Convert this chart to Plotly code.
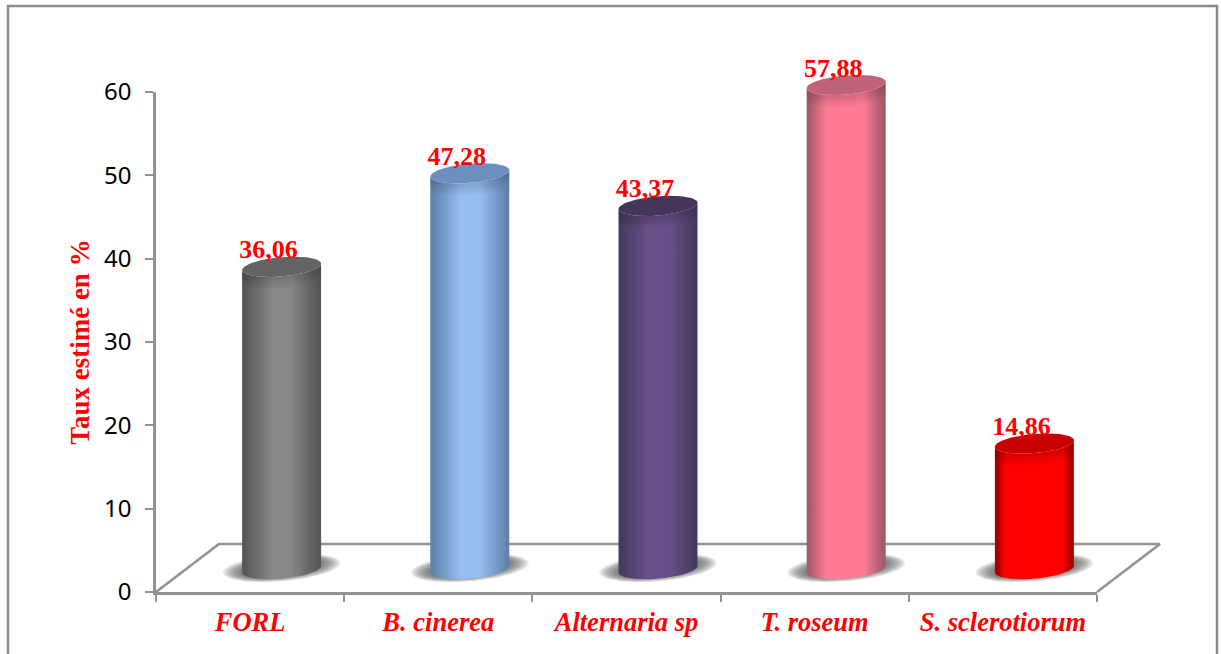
import numpy as np
import plotly.graph_objects as go

# Chart content
categories = ["FORL", "B. cinerea", "Alternaria sp", "T. roseum", "S. sclerotiorum"]
values = [36.06, 47.28, 43.37, 57.88, 14.86]
y_ticks = [0, 10, 20, 30, 40, 50, 60]

# Cylinder shading: side edge, centre highlight, cap colour, highlight extent
edge_colors = ["#565656", "#5f83ad", "#463a5e", "#a35a6c", "#a80000"]
mid_colors = ["#888888", "#97bff2", "#675088", "#ff7b95", "#ff0000"]
cap_colors = ["#646464", "#6c90bd", "#443659", "#c0637a", "#c80000"]
highlight_bands = [(0.38, 0.62), (0.38, 0.62), (0.38, 0.65), (0.25, 0.72), (0.14, 0.86)]

WIDTH, HEIGHT = 1221, 654
LEFT, RIGHT, TOP, BOTTOM = 156, 1097, 92, 592
AXIS_GRAY = "#929292"
SERIF = "Liberation Serif"

px_x = (RIGHT - LEFT) / len(categories)   # pixels per category
px_y = (BOTTOM - TOP) / 60                # pixels per y unit

# Floor depth and where a cylinder stands on it, in axis units
DEPTH_X, DEPTH_Y = 63 / px_x, 48 / px_y
CYL_DX = 31.5 / px_x
CAP_LIFT = 2.96
BASE_LIFT = 2.75
RX, RY, SKEW = 39.5 / px_x, 9.6 / px_y, 3.2 / px_y

theta = np.linspace(0, 2 * np.pi, 121)
front = np.linspace(np.pi, 0, 61)


def ellipse(cx, cy, t, rx=RX, ry=RY, skew=SKEW):
    """Slightly tilted ellipse in axis units."""
    return cx + rx * np.cos(t), cy - ry * np.sin(t) + skew * np.cos(t)


# The 3D scene overflows the labelled axes, so it is drawn on a page-wide
# pair of hidden axes that keeps exactly the same scale as the visible ones.
x_full = [(0 - LEFT) / px_x - 0.5, (WIDTH - LEFT) / px_x - 0.5]
y_full = [(BOTTOM - HEIGHT) / px_y, BOTTOM / px_y]
SCENE = dict(xaxis="x2", yaxis="y2", hoverinfo="skip", showlegend=False)

fig = go.Figure()

# Value bars on the visible axes (the cylinders below give them their look)
fig.add_trace(go.Bar(
    x=list(range(len(categories))), y=values,
    marker=dict(color="rgba(0,0,0,0)", line=dict(width=0)),
    hoverinfo="skip", showlegend=False,
))

# Floor outline
x0, x1 = -0.5, len(categories) - 0.5
fig.add_trace(go.Scatter(
    x=[x0, x0 + DEPTH_X, x1 + DEPTH_X, x1],
    y=[0, DEPTH_Y, DEPTH_Y, 0],
    mode="lines",
    line=dict(color=AXIS_GRAY, width=2.5),
    **SCENE,
))

# Soft floor shadows, built up from nested translucent ellipses
for i in range(len(categories)):
    cx = i + CYL_DX
    for k in range(16):
        f = 1 - k / 16
        sx, sy = ellipse(cx, BASE_LIFT + 0.15, theta,
                         rx=RX * 0.9 + RX * 0.6 * f,
                         ry=RY * 0.8 + RY * 0.62 * f,
                         skew=SKEW * 1.5)
        fig.add_trace(go.Scatter(
            x=sx, y=sy, mode="lines", fill="toself",
            fillcolor="rgba(90,90,90,0.09)",
            line=dict(width=0), **SCENE,
        ))

# Cylinder bodies and caps
for i, v in enumerate(values):
    cx = i + CYL_DX
    top = v + CAP_LIFT
    bx, by = ellipse(cx, BASE_LIFT, front)
    tx, ty = ellipse(cx, top, front[::-1])
    lo, hi = highlight_bands[i]
    gradient = dict(
        type="horizontal",
        colorscale=[
            [0.0, edge_colors[i]],
            [0.03, edge_colors[i]],
            [lo, mid_colors[i]],
            [hi, mid_colors[i]],
            [0.97, edge_colors[i]],
            [1.0, edge_colors[i]],
        ],
    )
    fig.add_trace(go.Scatter(
        x=np.concatenate([bx, tx]), y=np.concatenate([by, ty]),
        mode="lines", fill="toself", fillgradient=gradient,
        line=dict(width=0), **SCENE,
    ))
    # Darker bevel fading out just under the cap
    for drop in (3, 6, 9, 12):
        ax, ay = ellipse(cx, top, front)
        lx, ly = ellipse(cx, top - drop / px_y, front[::-1])
        fig.add_trace(go.Scatter(
            x=np.concatenate([ax, lx]), y=np.concatenate([ay, ly]),
            mode="lines", fill="toself", fillcolor="rgba(0,0,0,0.035)",
            line=dict(width=0), **SCENE,
        ))
    cap_x, cap_y = ellipse(cx, top, theta)
    fig.add_trace(go.Scatter(
        x=cap_x, y=cap_y, mode="lines", fill="toself",
        fillcolor=cap_colors[i], line=dict(width=0), **SCENE,
    ))

# Value labels sitting on the caps
fig.add_trace(go.Scatter(
    x=[i + CYL_DX - 13 / px_x for i in range(len(values))],
    y=[v + CAP_LIFT + 1.8 for v in values],
    mode="text",
    text=[f"{v:.2f}".replace(".", ",") for v in values],
    textposition="middle center",
    textfont=dict(family=SERIF, size=26, color="#ff0000", weight=700),
    **SCENE,
))

fig.update_layout(
    width=WIDTH, height=HEIGHT, autosize=False,
    margin=dict(l=0, r=0, t=0, b=0, pad=0),
    paper_bgcolor="white", plot_bgcolor="rgba(0,0,0,0)",
    showlegend=False, hovermode=False,
    shapes=[dict(
        type="rect", xref="paper", yref="paper", layer="below",
        x0=8 / WIDTH, x1=1217 / WIDTH, y0=-20 / HEIGHT, y1=1 - 6 / HEIGHT,
        line=dict(color="#8a8a8a", width=2.5), fillcolor="rgba(0,0,0,0)",
    )],
    xaxis=dict(
        domain=[LEFT / WIDTH, RIGHT / WIDTH], automargin=False,
        range=[x0, x1], tickmode="array",
        tickvals=list(range(len(categories))), ticktext=categories,
        ticks="", showgrid=False, zeroline=False,
        showline=True, linecolor=AXIS_GRAY, linewidth=2.5,
        tickfont=dict(family=SERIF, size=26.5, color="#ff0000", weight=700, style="italic"),
        ticklabelstandoff=4,
        minor=dict(
            tickmode="array",
            tickvals=[x0 + k for k in range(len(categories) + 1)],
            ticks="outside", ticklen=7, tickwidth=2, tickcolor=AXIS_GRAY,
            showgrid=False,
        ),
    ),
    yaxis=dict(
        domain=[1 - BOTTOM / HEIGHT, 1 - TOP / HEIGHT], automargin=False,
        range=[0, 60], tickmode="array", tickvals=y_ticks,
        ticks="outside", ticklen=8, tickwidth=2, tickcolor=AXIS_GRAY,
        showgrid=False, zeroline=False,
        showline=True, linecolor=AXIS_GRAY, linewidth=2.5,
        tickfont=dict(family="Noto Sans", size=24, color="#000000"),
        ticklabelstandoff=9,
        title=dict(
            text="Taux estimé en %", standoff=7,
            font=dict(family=SERIF, size=27, color="#ff0000", weight=700),
        ),
    ),
    xaxis2=dict(domain=[0, 1], range=x_full, visible=False, anchor="y2", automargin=False),
    yaxis2=dict(domain=[0, 1], range=y_full, visible=False, anchor="x2", automargin=False),
)

fig.write_html("out.html")
